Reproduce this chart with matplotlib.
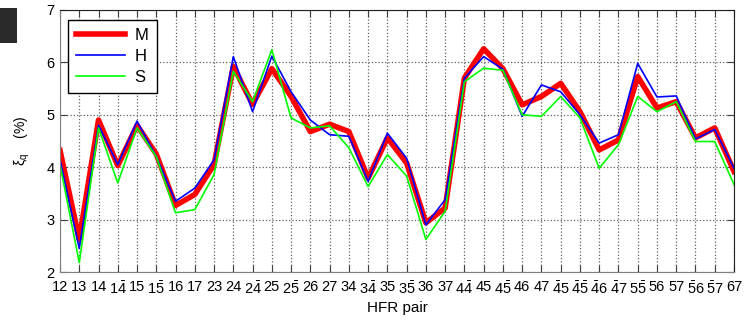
import numpy as np
import matplotlib
matplotlib.use('Agg')
import matplotlib.pyplot as plt
from matplotlib.patches import Rectangle

plt.rcParams['font.family'] = ['Liberation Sans', 'DejaVu Sans']
plt.rcParams['mathtext.fontset'] = 'custom'
plt.rcParams['mathtext.rm'] = 'Liberation Sans'
plt.rcParams['mathtext.it'] = 'Liberation Sans:italic'
plt.rcParams['mathtext.default'] = 'regular'

pairs = ['12', '13', '14', r'$1\bar{4}$', '15', r'$1\bar{5}$', '16', '17', '23', '24',
         r'$2\bar{4}$', '25', r'$2\bar{5}$', '26', '27', '34', r'$3\bar{4}$', '35',
         r'$3\bar{5}$', '36', '37', r'$4\bar{4}$', '45', r'$4\bar{5}$', '46', '47',
         r'$\bar{4}5$', r'$\bar{4}\bar{5}$', r'$\bar{4}6$', r'$\bar{4}7$', r'$5\bar{5}$',
         '56', '57', r'$\bar{5}6$', r'$\bar{5}7$', '67']

M = [4.32, 2.62, 4.90, 4.03, 4.80, 4.25, 3.27, 3.48, 4.05, 5.92, 5.20, 5.88,
     5.35, 4.68, 4.82, 4.68, 3.79, 4.56, 4.08, 2.94, 3.22, 5.70, 6.26, 5.88,
     5.19, 5.35, 5.60, 5.06, 4.33, 4.52, 5.73, 5.13, 5.25, 4.56, 4.75, 3.92]
H = [4.15, 2.45, 4.80, 4.05, 4.88, 4.20, 3.35, 3.60, 4.14, 6.11, 5.06, 6.12,
     5.44, 4.90, 4.62, 4.59, 3.73, 4.65, 4.17, 2.90, 3.38, 5.70, 6.11, 5.87,
     4.97, 5.57, 5.44, 5.00, 4.46, 4.62, 5.98, 5.34, 5.36, 4.54, 4.72, 3.98]
S = [4.05, 2.18, 4.75, 3.70, 4.75, 4.20, 3.13, 3.19, 3.86, 5.83, 5.25, 6.24,
     4.94, 4.75, 4.79, 4.37, 3.63, 4.24, 3.83, 2.62, 3.16, 5.63, 5.89, 5.85,
     5.00, 4.97, 5.35, 4.94, 3.98, 4.43, 5.35, 5.06, 5.25, 4.49, 4.49, 3.67]

fig = plt.figure(figsize=(7.54, 3.21), dpi=100)
ax = fig.add_axes([60/754, 1-272/321, 674/754, 262/321])

x = np.arange(len(pairs))
ax.plot(x, M, color='#ff0000', lw=4.0, label='M')
ax.plot(x, H, color='#0000ff', lw=1.2, label='H')
ax.plot(x, S, color='#00ff00', lw=1.2, label='S')

ax.set_xlim(0, len(pairs) - 1)
ax.set_ylim(2, 7)
ax.set_xticks(x)
ax.set_xticklabels(pairs)
ax.set_yticks([2, 3, 4, 5, 6, 7])
ax.tick_params(direction='in', top=True, right=True, length=5, labelsize=10.5,
               color='#404040')
ax.tick_params(axis='x', pad=6)
ax.tick_params(axis='y', pad=4)
ax.grid(True, linestyle=':', color='#606060', lw=0.9)
for s in ['left', 'bottom']:
    ax.spines[s].set_color('#808080')
for s in ['top', 'right']:
    ax.spines[s].set_color('#202020')

ax.set_xlabel('HFR pair', fontsize=11, labelpad=3)
ax.set_ylabel(r'$\xi_q$    (%)', fontsize=10, labelpad=10)

leg = ax.legend(loc='upper left', fontsize=12, handlelength=2.9, borderpad=0.5,
                labelspacing=0.35, handletextpad=0.6, borderaxespad=0,
                fancybox=False, framealpha=1, bbox_to_anchor=(0.012, 0.962))
leg.get_frame().set_edgecolor('black')
leg.get_frame().set_linewidth(1.0)

fig.patches.append(Rectangle((0, 1-43/321), 17/754, 35/321, transform=fig.transFigure,
                             facecolor='#2a2a2a', edgecolor='none'))

fig.savefig('out.png', dpi=100)
